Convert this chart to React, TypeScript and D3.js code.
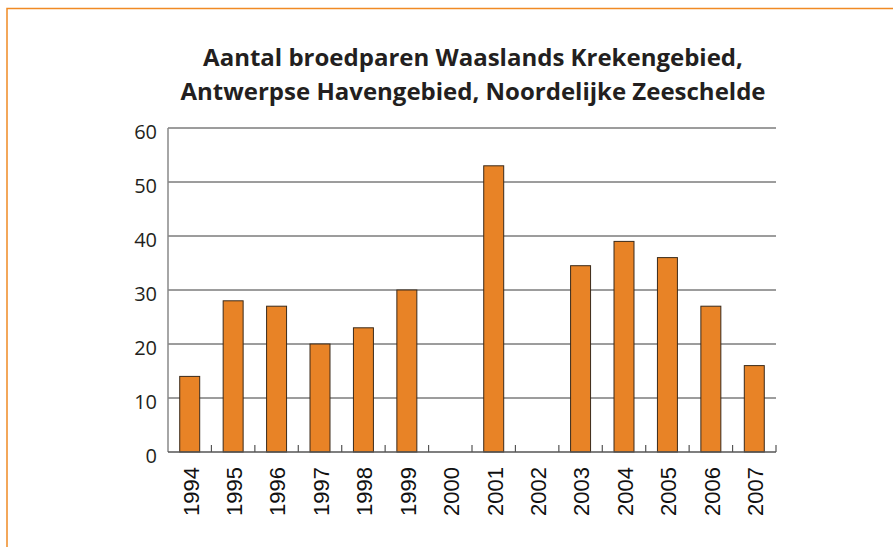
import React from 'react';
import * as d3 from 'd3';

const years = ['1994', '1995', '1996', '1997', '1998', '1999', '2000', '2001', '2002', '2003', '2004', '2005', '2006', '2007'];
const pairs = [14, 28, 27, 20, 23, 30, 0, 53, 0, 34.5, 39, 36, 27, 16];
const yTicks = [0, 10, 20, 30, 40, 50, 60];
const titleLines = ['Aantal broedparen Waaslands Krekengebied,', 'Antwerpse Havengebied, Noordelijke Zeeschelde'];

const W = 893;
const H = 547;
const left = 168;
const right = 776;
const top = 128;
const bottom = 452;

export default function App() {
  const x = d3.scaleBand<string>().domain(years).range([left, right]).paddingInner(0.54).paddingOuter(0.27);
  const y = d3.scaleLinear().domain([0, 60]).range([bottom, top]);
  const step = x.step();
  const sepTicks = d3.range(1, years.length + 1).map(i => left + i * step);

  return (
    <svg width={W} height={H} style={{ position: 'absolute', left: 0, top: 0 }}>
      <rect x={0} y={0} width={W} height={H} fill="#fff" />
      {/* orange frame, runs off the page right and bottom */}
      <rect x={7} y={8.5} width={W + 20} height={H + 20} fill="none" stroke="#f08a24" strokeWidth={1.5} />

      {titleLines.map((t, i) => (
        <text key={i} x={473} y={66 + i * 34} textAnchor="middle"
          style={{ fontFamily: '"Open Sans", "Noto Sans", sans-serif', fontWeight: 700, fontSize: 24, fill: '#231f20' }}>
          {t}
        </text>
      ))}

      {/* gridlines */}
      {yTicks.filter(v => v > 0).map(v => (
        <line key={v} x1={left} x2={right} y1={y(v)} y2={y(v)} stroke="#3a3a3a" strokeWidth={1} />
      ))}

      {/* y tick labels */}
      {yTicks.map(v => (
        <text key={v} x={157} y={y(v) + 4} dy="0.35em" textAnchor="end"
          style={{ fontFamily: '"Open Sans", "Noto Sans", sans-serif', fontSize: 20, fill: '#231f20' }}>
          {v}
        </text>
      ))}

      {/* bars */}
      {years.map((yr, i) => (
        <rect key={yr} x={x(yr)} y={y(pairs[i])} width={x.bandwidth()} height={bottom - y(pairs[i])}
          fill="#e88326" stroke={pairs[i] > 0 ? '#3a2a1a' : '#3d4a2e'} strokeWidth={1} />
      ))}

      {/* axes */}
      <line x1={left} x2={left} y1={top} y2={bottom} stroke="#888" strokeWidth={1.5} />
      <line x1={left} x2={right} y1={bottom} y2={bottom} stroke="#555" strokeWidth={1.5} />
      {sepTicks.map((tx, i) => (
        <line key={i} x1={tx} x2={tx} y1={bottom} y2={bottom - 7} stroke="#555" strokeWidth={1.2} />
      ))}

      {/* year labels */}
      {years.map(yr => {
        const cx = (x(yr) ?? 0) + x.bandwidth() / 2 + 1;
        return (
          <text key={yr} transform={`translate(${cx},467) rotate(-90)`} textAnchor="end" dy="0.36em"
            style={{ fontFamily: '"Liberation Sans Narrow", "Arial Narrow", sans-serif', fontSize: 22, fill: '#111' }}>
            {yr}
          </text>
        );
      })}
    </svg>
  );
}
